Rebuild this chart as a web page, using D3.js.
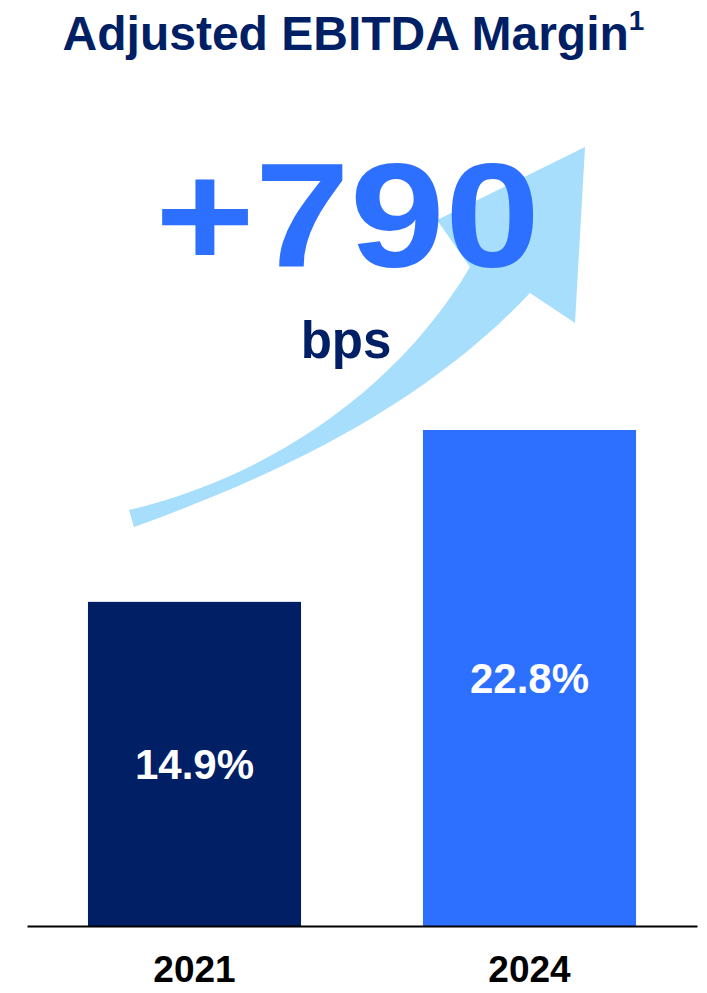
<!DOCTYPE html>
<html><head><meta charset="utf-8">
<script src="https://cdn.jsdelivr.net/npm/d3@7"></script>
<style>body{margin:0;background:#fff}svg{display:block}text{font-family:"Liberation Sans",Arial,sans-serif;font-weight:bold}</style>
</head><body>
<script>
const categories = ["2021", "2024"];
const values = [14.9, 22.8];
const valueLabels = ["14.9%", "22.8%"];
const changeLabel = "+790";
const changeUnit = "bps";
const title = "Adjusted EBITDA Margin";

const W = 707, H = 993;
const NAVY = "#001F65", BLUE = "#2D6FFF", LIGHT = "#A6DEFB";
const svg = d3.select("body").append("svg").attr("width", W).attr("height", H);

const x = d3.scaleBand().domain(categories).range([27, 697]).paddingInner(0.364).paddingOuter(0.182);
const y = d3.scaleLinear().domain([0, 22.8]).range([926, 430]);

// title
const t = svg.append("text").attr("x", W/2).attr("y", 50).attr("text-anchor", "middle")
  .attr("fill", NAVY).attr("font-size", 48);
t.append("tspan").text(title);
t.append("tspan").attr("font-size", 28).attr("dy", -20).text("1");

// arrow (decoration)
const p = d3.path();
p.moveTo(129, 510);
p.bezierCurveTo(268.4, 476.6, 396.1, 391.4, 470, 267);
p.lineTo(437, 220);
p.lineTo(585, 147);
p.lineTo(575, 323);
p.lineTo(530, 293);
p.bezierCurveTo(423.2, 406.1, 278.5, 475, 134, 527);
p.closePath();
svg.append("path").attr("d", p.toString()).attr("fill", LIGHT);

// change label
svg.append("text").attr("x", 155).attr("y", 267)
  .attr("textLength", 385).attr("lengthAdjust", "spacingAndGlyphs")
  .attr("fill", BLUE).attr("font-size", 149).text(changeLabel);
svg.append("text").attr("x", 346).attr("y", 358).attr("text-anchor", "middle")
  .attr("fill", NAVY).attr("font-size", 51).text(changeUnit);

// bars
const colors = [NAVY, BLUE];
svg.selectAll("rect.bar").data(values).join("rect").attr("class", "bar")
  .attr("x", (d, i) => x(categories[i])).attr("width", x.bandwidth())
  .attr("y", d => y(d)).attr("height", d => y(0) - y(d))
  .attr("fill", (d, i) => colors[i]);

svg.selectAll("text.val").data(values).join("text").attr("class", "val")
  .attr("x", (d, i) => x(categories[i]) + x.bandwidth()/2)
  .attr("y", d => (y(d) + y(0))/2 + 15)
  .attr("text-anchor", "middle").attr("fill", "#fff").attr("font-size", 42)
  .text((d, i) => valueLabels[i]);

// baseline axis
const axis = d3.axisBottom(x).tickSize(0).tickPadding(30);
const g = svg.append("g").attr("transform", `translate(0,${y(0)})`).call(axis);
g.select(".domain").attr("stroke", "#000").attr("stroke-width", 2);
g.selectAll(".tick text").attr("font-size", 37).attr("fill", "#000")
  .attr("font-family", "'Liberation Sans', Arial, sans-serif").attr("font-weight", "bold");
</script>
</body></html>
